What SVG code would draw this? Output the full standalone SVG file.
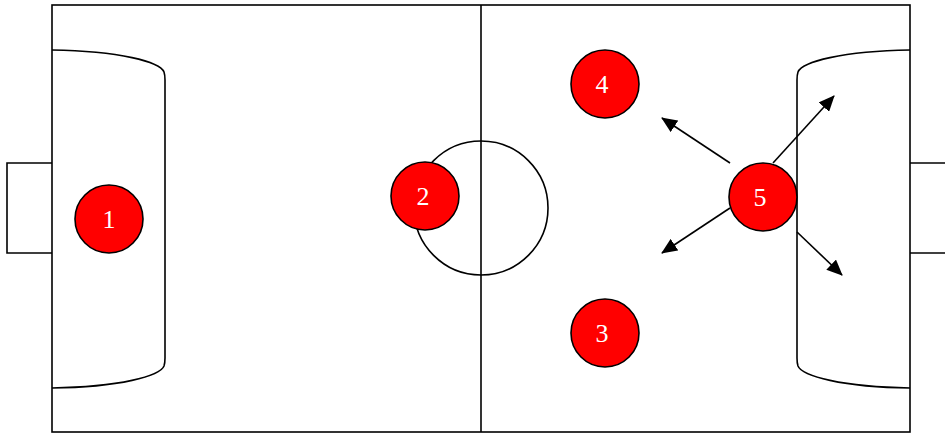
<svg xmlns="http://www.w3.org/2000/svg" width="945" height="434" viewBox="0 0 945 434">
<style>
.ln{fill:none;stroke:#000;stroke-width:1.6}
.pl circle{fill:#ff0000;stroke:#000;stroke-width:1.6}
.pl text{fill:#fff;font-family:"Liberation Serif",serif;font-size:26px;text-anchor:middle}
.ar{stroke:#000;stroke-width:1.6;fill:none;marker-end:url(#ah)}
</style>
<defs>
<marker id="ah" markerUnits="userSpaceOnUse" markerWidth="16" markerHeight="14" refX="15" refY="7" orient="auto">
<path d="M0,0 L16,7 L0,14 Z" fill="#000"/>
</marker>
</defs>
<rect width="945" height="434" fill="#fff"/>
<g id="field">
<rect class="ln" x="52" y="5" width="858" height="427"/>
<line class="ln" x1="481" y1="5" x2="481" y2="432"/>
<circle class="ln" cx="481" cy="208" r="67"/>
<path class="ln" d="M52,50 C120,51 160,62 164,72 Q165,75 165,80 L165,358 Q165,363 164,366 C160,376 120,387 52,388"/>
<path class="ln" d="M910,50 C842,51 802,62 798,72 Q797,75 797,80 L797,358 Q797,363 798,366 C802,376 842,387 910,388"/>
<polyline class="ln" points="52,163 7,163 7,253 52,253"/>
<line class="ln" x1="910" y1="163" x2="946" y2="163"/>
<line class="ln" x1="910" y1="253" x2="946" y2="253"/>
</g>
<g id="connectors">
<line class="ar" x1="730" y1="163" x2="662" y2="118"/>
<line class="ar" x1="730" y1="208" x2="662" y2="253"/>
<line class="ar" x1="773" y1="163" x2="834" y2="96"/>
<line class="ar" x1="797" y1="232" x2="842" y2="275"/>
</g>
<g id="p1" class="pl"><circle cx="109" cy="219" r="34"/><text x="109" y="228">1</text></g>
<g id="p2" class="pl"><circle cx="425" cy="196" r="34"/><text x="423" y="205">2</text></g>
<g id="p3" class="pl"><circle cx="605" cy="333" r="34"/><text x="602" y="342">3</text></g>
<g id="p4" class="pl"><circle cx="605" cy="84" r="34"/><text x="602" y="93">4</text></g>
<g id="p5" class="pl"><circle cx="763" cy="197" r="34"/><text x="760" y="206">5</text></g>
</svg>
